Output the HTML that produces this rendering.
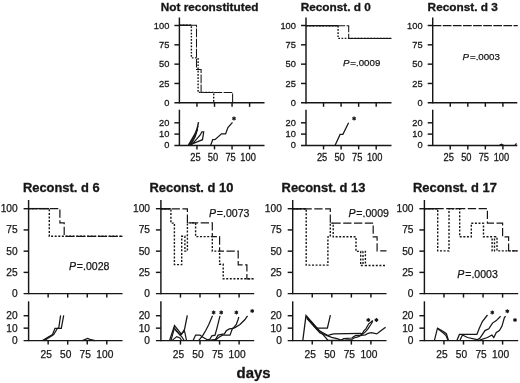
<!DOCTYPE html>
<html><head><meta charset="utf-8"><style>
html,body{margin:0;padding:0;background:#fff;}
svg{display:block;filter:blur(0.35px);}
text{font-family:"Liberation Sans", sans-serif;fill:#161616;stroke:#161616;stroke-width:0.32px;}
text.n{stroke-width:0.25px;}
text.p{stroke-width:0.25px;}
</style></head><body>
<svg width="520" height="383" viewBox="0 0 520 383">
<rect width="520" height="383" fill="#fff"/>
<text x="209.60" y="11.15" font-size="11.8" text-anchor="middle" font-weight="bold" >Not reconstituted</text>
<line x1="179.40" y1="17.50" x2="179.40" y2="103.40" stroke="#161616" stroke-width="1.45"/>
<line x1="174.40" y1="25.50" x2="179.40" y2="25.50" stroke="#161616" stroke-width="1.45"/>
<text class="n" transform="translate(169.30,28.53) scale(1,1.06)" font-size="9.3" text-anchor="end">100</text>
<line x1="174.40" y1="44.83" x2="179.40" y2="44.83" stroke="#161616" stroke-width="1.45"/>
<text class="n" transform="translate(169.30,47.85) scale(1,1.06)" font-size="9.3" text-anchor="end">75</text>
<line x1="174.40" y1="64.15" x2="179.40" y2="64.15" stroke="#161616" stroke-width="1.45"/>
<text class="n" transform="translate(169.30,67.18) scale(1,1.06)" font-size="9.3" text-anchor="end">50</text>
<line x1="174.40" y1="83.47" x2="179.40" y2="83.47" stroke="#161616" stroke-width="1.45"/>
<text class="n" transform="translate(169.30,86.50) scale(1,1.06)" font-size="9.3" text-anchor="end">25</text>
<text class="n" transform="translate(169.30,105.83) scale(1,1.06)" font-size="9.3" text-anchor="end">0</text>
<line x1="174.40" y1="102.80" x2="264.50" y2="102.80" stroke="#161616" stroke-width="1.45"/>
<line x1="196.95" y1="102.80" x2="196.95" y2="106.80" stroke="#161616" stroke-width="1.45"/>
<line x1="214.50" y1="102.80" x2="214.50" y2="106.80" stroke="#161616" stroke-width="1.45"/>
<line x1="232.05" y1="102.80" x2="232.05" y2="106.80" stroke="#161616" stroke-width="1.45"/>
<line x1="249.60" y1="102.80" x2="249.60" y2="106.80" stroke="#161616" stroke-width="1.45"/>
<line x1="179.40" y1="109.70" x2="179.40" y2="146.00" stroke="#161616" stroke-width="1.45"/>
<line x1="174.40" y1="122.80" x2="179.40" y2="122.80" stroke="#161616" stroke-width="1.45"/>
<text class="n" transform="translate(169.30,125.83) scale(1,1.06)" font-size="9.3" text-anchor="end">20</text>
<line x1="174.40" y1="134.10" x2="179.40" y2="134.10" stroke="#161616" stroke-width="1.45"/>
<text class="n" transform="translate(169.30,137.13) scale(1,1.06)" font-size="9.3" text-anchor="end">10</text>
<text class="n" transform="translate(169.30,148.43) scale(1,1.06)" font-size="9.3" text-anchor="end">0</text>
<line x1="174.40" y1="145.40" x2="264.50" y2="145.40" stroke="#161616" stroke-width="1.45"/>
<line x1="196.95" y1="145.40" x2="196.95" y2="149.40" stroke="#161616" stroke-width="1.45"/>
<text class="n" transform="translate(195.45,161.43) scale(1,1.12)" font-size="9.3" text-anchor="middle">25</text>
<line x1="214.50" y1="145.40" x2="214.50" y2="149.40" stroke="#161616" stroke-width="1.45"/>
<text class="n" transform="translate(213.00,161.43) scale(1,1.12)" font-size="9.3" text-anchor="middle">50</text>
<line x1="232.05" y1="145.40" x2="232.05" y2="149.40" stroke="#161616" stroke-width="1.45"/>
<text class="n" transform="translate(230.55,161.43) scale(1,1.12)" font-size="9.3" text-anchor="middle">75</text>
<line x1="249.60" y1="145.40" x2="249.60" y2="149.40" stroke="#161616" stroke-width="1.45"/>
<text class="n" transform="translate(248.10,161.43) scale(1,1.12)" font-size="9.3" text-anchor="middle">100</text>
<text x="335.80" y="11.15" font-size="11.8" text-anchor="middle" font-weight="bold" >Reconst. d 0</text>
<line x1="306.00" y1="17.50" x2="306.00" y2="103.40" stroke="#161616" stroke-width="1.45"/>
<line x1="301.00" y1="25.50" x2="306.00" y2="25.50" stroke="#161616" stroke-width="1.45"/>
<text class="n" transform="translate(295.90,28.53) scale(1,1.06)" font-size="9.3" text-anchor="end">100</text>
<line x1="301.00" y1="44.83" x2="306.00" y2="44.83" stroke="#161616" stroke-width="1.45"/>
<text class="n" transform="translate(295.90,47.85) scale(1,1.06)" font-size="9.3" text-anchor="end">75</text>
<line x1="301.00" y1="64.15" x2="306.00" y2="64.15" stroke="#161616" stroke-width="1.45"/>
<text class="n" transform="translate(295.90,67.18) scale(1,1.06)" font-size="9.3" text-anchor="end">50</text>
<line x1="301.00" y1="83.47" x2="306.00" y2="83.47" stroke="#161616" stroke-width="1.45"/>
<text class="n" transform="translate(295.90,86.50) scale(1,1.06)" font-size="9.3" text-anchor="end">25</text>
<text class="n" transform="translate(295.90,105.83) scale(1,1.06)" font-size="9.3" text-anchor="end">0</text>
<line x1="301.00" y1="102.80" x2="391.50" y2="102.80" stroke="#161616" stroke-width="1.45"/>
<line x1="323.55" y1="102.80" x2="323.55" y2="106.80" stroke="#161616" stroke-width="1.45"/>
<line x1="341.10" y1="102.80" x2="341.10" y2="106.80" stroke="#161616" stroke-width="1.45"/>
<line x1="358.65" y1="102.80" x2="358.65" y2="106.80" stroke="#161616" stroke-width="1.45"/>
<line x1="376.20" y1="102.80" x2="376.20" y2="106.80" stroke="#161616" stroke-width="1.45"/>
<line x1="306.00" y1="109.70" x2="306.00" y2="146.00" stroke="#161616" stroke-width="1.45"/>
<line x1="301.00" y1="122.80" x2="306.00" y2="122.80" stroke="#161616" stroke-width="1.45"/>
<text class="n" transform="translate(295.90,125.83) scale(1,1.06)" font-size="9.3" text-anchor="end">20</text>
<line x1="301.00" y1="134.10" x2="306.00" y2="134.10" stroke="#161616" stroke-width="1.45"/>
<text class="n" transform="translate(295.90,137.13) scale(1,1.06)" font-size="9.3" text-anchor="end">10</text>
<text class="n" transform="translate(295.90,148.43) scale(1,1.06)" font-size="9.3" text-anchor="end">0</text>
<line x1="301.00" y1="145.40" x2="391.50" y2="145.40" stroke="#161616" stroke-width="1.45"/>
<line x1="323.55" y1="145.40" x2="323.55" y2="149.40" stroke="#161616" stroke-width="1.45"/>
<text class="n" transform="translate(322.05,161.43) scale(1,1.12)" font-size="9.3" text-anchor="middle">25</text>
<line x1="341.10" y1="145.40" x2="341.10" y2="149.40" stroke="#161616" stroke-width="1.45"/>
<text class="n" transform="translate(339.60,161.43) scale(1,1.12)" font-size="9.3" text-anchor="middle">50</text>
<line x1="358.65" y1="145.40" x2="358.65" y2="149.40" stroke="#161616" stroke-width="1.45"/>
<text class="n" transform="translate(357.15,161.43) scale(1,1.12)" font-size="9.3" text-anchor="middle">75</text>
<line x1="376.20" y1="145.40" x2="376.20" y2="149.40" stroke="#161616" stroke-width="1.45"/>
<text class="n" transform="translate(374.70,161.43) scale(1,1.12)" font-size="9.3" text-anchor="middle">100</text>
<text class="p" x="343.00" y="66.39" font-size="9.7"><tspan font-style="italic">P</tspan><tspan dx="0.9">=</tspan>.0009</text>
<text x="462.70" y="11.15" font-size="11.8" text-anchor="middle" font-weight="bold" >Reconst. d 3</text>
<line x1="432.70" y1="17.50" x2="432.70" y2="103.40" stroke="#161616" stroke-width="1.45"/>
<line x1="427.70" y1="25.50" x2="432.70" y2="25.50" stroke="#161616" stroke-width="1.45"/>
<text class="n" transform="translate(422.60,28.53) scale(1,1.06)" font-size="9.3" text-anchor="end">100</text>
<line x1="427.70" y1="44.83" x2="432.70" y2="44.83" stroke="#161616" stroke-width="1.45"/>
<text class="n" transform="translate(422.60,47.85) scale(1,1.06)" font-size="9.3" text-anchor="end">75</text>
<line x1="427.70" y1="64.15" x2="432.70" y2="64.15" stroke="#161616" stroke-width="1.45"/>
<text class="n" transform="translate(422.60,67.18) scale(1,1.06)" font-size="9.3" text-anchor="end">50</text>
<line x1="427.70" y1="83.47" x2="432.70" y2="83.47" stroke="#161616" stroke-width="1.45"/>
<text class="n" transform="translate(422.60,86.50) scale(1,1.06)" font-size="9.3" text-anchor="end">25</text>
<text class="n" transform="translate(422.60,105.83) scale(1,1.06)" font-size="9.3" text-anchor="end">0</text>
<line x1="427.70" y1="102.80" x2="517.30" y2="102.80" stroke="#161616" stroke-width="1.45"/>
<line x1="450.25" y1="102.80" x2="450.25" y2="106.80" stroke="#161616" stroke-width="1.45"/>
<line x1="467.80" y1="102.80" x2="467.80" y2="106.80" stroke="#161616" stroke-width="1.45"/>
<line x1="485.35" y1="102.80" x2="485.35" y2="106.80" stroke="#161616" stroke-width="1.45"/>
<line x1="502.90" y1="102.80" x2="502.90" y2="106.80" stroke="#161616" stroke-width="1.45"/>
<line x1="432.70" y1="109.70" x2="432.70" y2="146.00" stroke="#161616" stroke-width="1.45"/>
<line x1="427.70" y1="122.80" x2="432.70" y2="122.80" stroke="#161616" stroke-width="1.45"/>
<text class="n" transform="translate(422.60,125.83) scale(1,1.06)" font-size="9.3" text-anchor="end">20</text>
<line x1="427.70" y1="134.10" x2="432.70" y2="134.10" stroke="#161616" stroke-width="1.45"/>
<text class="n" transform="translate(422.60,137.13) scale(1,1.06)" font-size="9.3" text-anchor="end">10</text>
<text class="n" transform="translate(422.60,148.43) scale(1,1.06)" font-size="9.3" text-anchor="end">0</text>
<line x1="427.70" y1="145.40" x2="517.30" y2="145.40" stroke="#161616" stroke-width="1.45"/>
<line x1="450.25" y1="145.40" x2="450.25" y2="149.40" stroke="#161616" stroke-width="1.45"/>
<text class="n" transform="translate(448.75,161.43) scale(1,1.12)" font-size="9.3" text-anchor="middle">25</text>
<line x1="467.80" y1="145.40" x2="467.80" y2="149.40" stroke="#161616" stroke-width="1.45"/>
<text class="n" transform="translate(466.30,161.43) scale(1,1.12)" font-size="9.3" text-anchor="middle">50</text>
<line x1="485.35" y1="145.40" x2="485.35" y2="149.40" stroke="#161616" stroke-width="1.45"/>
<text class="n" transform="translate(483.85,161.43) scale(1,1.12)" font-size="9.3" text-anchor="middle">75</text>
<line x1="502.90" y1="145.40" x2="502.90" y2="149.40" stroke="#161616" stroke-width="1.45"/>
<text class="n" transform="translate(501.40,161.43) scale(1,1.12)" font-size="9.3" text-anchor="middle">100</text>
<text class="p" x="462.60" y="59.69" font-size="9.7"><tspan font-style="italic">P</tspan><tspan dx="0.9">=</tspan>.0003</text>
<text x="61.30" y="192.10" font-size="12.9" text-anchor="middle" font-weight="bold" >Reconst. d 6</text>
<line x1="28.60" y1="200.00" x2="28.60" y2="294.20" stroke="#161616" stroke-width="1.45"/>
<line x1="23.60" y1="208.70" x2="28.60" y2="208.70" stroke="#161616" stroke-width="1.45"/>
<text class="n" transform="translate(17.70,212.15) scale(1,1.0)" font-size="10.2" text-anchor="end">100</text>
<line x1="23.60" y1="229.93" x2="28.60" y2="229.93" stroke="#161616" stroke-width="1.45"/>
<text class="n" transform="translate(17.70,233.38) scale(1,1.0)" font-size="10.2" text-anchor="end">75</text>
<line x1="23.60" y1="251.15" x2="28.60" y2="251.15" stroke="#161616" stroke-width="1.45"/>
<text class="n" transform="translate(17.70,254.60) scale(1,1.0)" font-size="10.2" text-anchor="end">50</text>
<line x1="23.60" y1="272.38" x2="28.60" y2="272.38" stroke="#161616" stroke-width="1.45"/>
<text class="n" transform="translate(17.70,275.83) scale(1,1.0)" font-size="10.2" text-anchor="end">25</text>
<text class="n" transform="translate(17.70,297.05) scale(1,1.0)" font-size="10.2" text-anchor="end">0</text>
<line x1="23.60" y1="293.60" x2="122.50" y2="293.60" stroke="#161616" stroke-width="1.45"/>
<line x1="48.15" y1="293.60" x2="48.15" y2="297.60" stroke="#161616" stroke-width="1.45"/>
<line x1="67.70" y1="293.60" x2="67.70" y2="297.60" stroke="#161616" stroke-width="1.45"/>
<line x1="87.25" y1="293.60" x2="87.25" y2="297.60" stroke="#161616" stroke-width="1.45"/>
<line x1="106.80" y1="293.60" x2="106.80" y2="297.60" stroke="#161616" stroke-width="1.45"/>
<line x1="28.60" y1="301.30" x2="28.60" y2="341.20" stroke="#161616" stroke-width="1.45"/>
<line x1="23.60" y1="315.70" x2="28.60" y2="315.70" stroke="#161616" stroke-width="1.45"/>
<text class="n" transform="translate(17.70,319.15) scale(1,1.0)" font-size="10.2" text-anchor="end">20</text>
<line x1="23.60" y1="328.15" x2="28.60" y2="328.15" stroke="#161616" stroke-width="1.45"/>
<text class="n" transform="translate(17.70,331.60) scale(1,1.0)" font-size="10.2" text-anchor="end">10</text>
<text class="n" transform="translate(17.70,344.05) scale(1,1.0)" font-size="10.2" text-anchor="end">0</text>
<line x1="23.60" y1="340.60" x2="122.50" y2="340.60" stroke="#161616" stroke-width="1.45"/>
<line x1="48.15" y1="340.60" x2="48.15" y2="344.60" stroke="#161616" stroke-width="1.45"/>
<text class="n" transform="translate(46.15,357.75) scale(1,1.0)" font-size="10.2" text-anchor="middle">25</text>
<line x1="67.70" y1="340.60" x2="67.70" y2="344.60" stroke="#161616" stroke-width="1.45"/>
<text class="n" transform="translate(65.70,357.75) scale(1,1.0)" font-size="10.2" text-anchor="middle">50</text>
<line x1="87.25" y1="340.60" x2="87.25" y2="344.60" stroke="#161616" stroke-width="1.45"/>
<text class="n" transform="translate(85.25,357.75) scale(1,1.0)" font-size="10.2" text-anchor="middle">75</text>
<line x1="106.80" y1="340.60" x2="106.80" y2="344.60" stroke="#161616" stroke-width="1.45"/>
<text class="n" transform="translate(104.80,357.75) scale(1,1.0)" font-size="10.2" text-anchor="middle">100</text>
<text class="p" x="68.90" y="270.10" font-size="10.55"><tspan font-style="italic">P</tspan><tspan dx="0.9">=</tspan>.0028</text>
<text x="191.40" y="192.10" font-size="12.9" text-anchor="middle" font-weight="bold" >Reconst. d 10</text>
<line x1="160.90" y1="200.00" x2="160.90" y2="294.20" stroke="#161616" stroke-width="1.45"/>
<line x1="155.90" y1="208.70" x2="160.90" y2="208.70" stroke="#161616" stroke-width="1.45"/>
<text class="n" transform="translate(150.00,212.15) scale(1,1.0)" font-size="10.2" text-anchor="end">100</text>
<line x1="155.90" y1="229.93" x2="160.90" y2="229.93" stroke="#161616" stroke-width="1.45"/>
<text class="n" transform="translate(150.00,233.38) scale(1,1.0)" font-size="10.2" text-anchor="end">75</text>
<line x1="155.90" y1="251.15" x2="160.90" y2="251.15" stroke="#161616" stroke-width="1.45"/>
<text class="n" transform="translate(150.00,254.60) scale(1,1.0)" font-size="10.2" text-anchor="end">50</text>
<line x1="155.90" y1="272.38" x2="160.90" y2="272.38" stroke="#161616" stroke-width="1.45"/>
<text class="n" transform="translate(150.00,275.83) scale(1,1.0)" font-size="10.2" text-anchor="end">25</text>
<text class="n" transform="translate(150.00,297.05) scale(1,1.0)" font-size="10.2" text-anchor="end">0</text>
<line x1="155.90" y1="293.60" x2="254.20" y2="293.60" stroke="#161616" stroke-width="1.45"/>
<line x1="180.45" y1="293.60" x2="180.45" y2="297.60" stroke="#161616" stroke-width="1.45"/>
<line x1="200.00" y1="293.60" x2="200.00" y2="297.60" stroke="#161616" stroke-width="1.45"/>
<line x1="219.55" y1="293.60" x2="219.55" y2="297.60" stroke="#161616" stroke-width="1.45"/>
<line x1="239.10" y1="293.60" x2="239.10" y2="297.60" stroke="#161616" stroke-width="1.45"/>
<line x1="160.90" y1="301.30" x2="160.90" y2="341.20" stroke="#161616" stroke-width="1.45"/>
<line x1="155.90" y1="315.70" x2="160.90" y2="315.70" stroke="#161616" stroke-width="1.45"/>
<text class="n" transform="translate(150.00,319.15) scale(1,1.0)" font-size="10.2" text-anchor="end">20</text>
<line x1="155.90" y1="328.15" x2="160.90" y2="328.15" stroke="#161616" stroke-width="1.45"/>
<text class="n" transform="translate(150.00,331.60) scale(1,1.0)" font-size="10.2" text-anchor="end">10</text>
<text class="n" transform="translate(150.00,344.05) scale(1,1.0)" font-size="10.2" text-anchor="end">0</text>
<line x1="155.90" y1="340.60" x2="254.20" y2="340.60" stroke="#161616" stroke-width="1.45"/>
<line x1="180.45" y1="340.60" x2="180.45" y2="344.60" stroke="#161616" stroke-width="1.45"/>
<text class="n" transform="translate(178.45,357.75) scale(1,1.0)" font-size="10.2" text-anchor="middle">25</text>
<line x1="200.00" y1="340.60" x2="200.00" y2="344.60" stroke="#161616" stroke-width="1.45"/>
<text class="n" transform="translate(198.00,357.75) scale(1,1.0)" font-size="10.2" text-anchor="middle">50</text>
<line x1="219.55" y1="340.60" x2="219.55" y2="344.60" stroke="#161616" stroke-width="1.45"/>
<text class="n" transform="translate(217.55,357.75) scale(1,1.0)" font-size="10.2" text-anchor="middle">75</text>
<line x1="239.10" y1="340.60" x2="239.10" y2="344.60" stroke="#161616" stroke-width="1.45"/>
<text class="n" transform="translate(237.10,357.75) scale(1,1.0)" font-size="10.2" text-anchor="middle">100</text>
<text class="p" x="208.90" y="217.20" font-size="10.55"><tspan font-style="italic">P</tspan><tspan dx="0.9">=</tspan>.0073</text>
<text x="323.50" y="192.10" font-size="12.9" text-anchor="middle" font-weight="bold" >Reconst. d 13</text>
<line x1="292.70" y1="200.00" x2="292.70" y2="294.20" stroke="#161616" stroke-width="1.45"/>
<line x1="287.70" y1="208.70" x2="292.70" y2="208.70" stroke="#161616" stroke-width="1.45"/>
<text class="n" transform="translate(281.80,212.15) scale(1,1.0)" font-size="10.2" text-anchor="end">100</text>
<line x1="287.70" y1="229.93" x2="292.70" y2="229.93" stroke="#161616" stroke-width="1.45"/>
<text class="n" transform="translate(281.80,233.38) scale(1,1.0)" font-size="10.2" text-anchor="end">75</text>
<line x1="287.70" y1="251.15" x2="292.70" y2="251.15" stroke="#161616" stroke-width="1.45"/>
<text class="n" transform="translate(281.80,254.60) scale(1,1.0)" font-size="10.2" text-anchor="end">50</text>
<line x1="287.70" y1="272.38" x2="292.70" y2="272.38" stroke="#161616" stroke-width="1.45"/>
<text class="n" transform="translate(281.80,275.83) scale(1,1.0)" font-size="10.2" text-anchor="end">25</text>
<text class="n" transform="translate(281.80,297.05) scale(1,1.0)" font-size="10.2" text-anchor="end">0</text>
<line x1="287.70" y1="293.60" x2="386.50" y2="293.60" stroke="#161616" stroke-width="1.45"/>
<line x1="312.25" y1="293.60" x2="312.25" y2="297.60" stroke="#161616" stroke-width="1.45"/>
<line x1="331.80" y1="293.60" x2="331.80" y2="297.60" stroke="#161616" stroke-width="1.45"/>
<line x1="351.35" y1="293.60" x2="351.35" y2="297.60" stroke="#161616" stroke-width="1.45"/>
<line x1="370.90" y1="293.60" x2="370.90" y2="297.60" stroke="#161616" stroke-width="1.45"/>
<line x1="292.70" y1="301.30" x2="292.70" y2="341.20" stroke="#161616" stroke-width="1.45"/>
<line x1="287.70" y1="315.70" x2="292.70" y2="315.70" stroke="#161616" stroke-width="1.45"/>
<text class="n" transform="translate(281.80,319.15) scale(1,1.0)" font-size="10.2" text-anchor="end">20</text>
<line x1="287.70" y1="328.15" x2="292.70" y2="328.15" stroke="#161616" stroke-width="1.45"/>
<text class="n" transform="translate(281.80,331.60) scale(1,1.0)" font-size="10.2" text-anchor="end">10</text>
<text class="n" transform="translate(281.80,344.05) scale(1,1.0)" font-size="10.2" text-anchor="end">0</text>
<line x1="287.70" y1="340.60" x2="386.50" y2="340.60" stroke="#161616" stroke-width="1.45"/>
<line x1="312.25" y1="340.60" x2="312.25" y2="344.60" stroke="#161616" stroke-width="1.45"/>
<text class="n" transform="translate(310.25,357.75) scale(1,1.0)" font-size="10.2" text-anchor="middle">25</text>
<line x1="331.80" y1="340.60" x2="331.80" y2="344.60" stroke="#161616" stroke-width="1.45"/>
<text class="n" transform="translate(329.80,357.75) scale(1,1.0)" font-size="10.2" text-anchor="middle">50</text>
<line x1="351.35" y1="340.60" x2="351.35" y2="344.60" stroke="#161616" stroke-width="1.45"/>
<text class="n" transform="translate(349.35,357.75) scale(1,1.0)" font-size="10.2" text-anchor="middle">75</text>
<line x1="370.90" y1="340.60" x2="370.90" y2="344.60" stroke="#161616" stroke-width="1.45"/>
<text class="n" transform="translate(368.90,357.75) scale(1,1.0)" font-size="10.2" text-anchor="middle">100</text>
<text class="p" x="348.40" y="216.50" font-size="10.55"><tspan font-style="italic">P</tspan><tspan dx="0.9">=</tspan>.0009</text>
<text x="454.90" y="192.10" font-size="12.9" text-anchor="middle" font-weight="bold" >Reconst. d 17</text>
<line x1="424.40" y1="200.00" x2="424.40" y2="294.20" stroke="#161616" stroke-width="1.45"/>
<line x1="419.40" y1="208.70" x2="424.40" y2="208.70" stroke="#161616" stroke-width="1.45"/>
<text class="n" transform="translate(413.50,212.15) scale(1,1.0)" font-size="10.2" text-anchor="end">100</text>
<line x1="419.40" y1="229.93" x2="424.40" y2="229.93" stroke="#161616" stroke-width="1.45"/>
<text class="n" transform="translate(413.50,233.38) scale(1,1.0)" font-size="10.2" text-anchor="end">75</text>
<line x1="419.40" y1="251.15" x2="424.40" y2="251.15" stroke="#161616" stroke-width="1.45"/>
<text class="n" transform="translate(413.50,254.60) scale(1,1.0)" font-size="10.2" text-anchor="end">50</text>
<line x1="419.40" y1="272.38" x2="424.40" y2="272.38" stroke="#161616" stroke-width="1.45"/>
<text class="n" transform="translate(413.50,275.83) scale(1,1.0)" font-size="10.2" text-anchor="end">25</text>
<text class="n" transform="translate(413.50,297.05) scale(1,1.0)" font-size="10.2" text-anchor="end">0</text>
<line x1="419.40" y1="293.60" x2="518.20" y2="293.60" stroke="#161616" stroke-width="1.45"/>
<line x1="443.95" y1="293.60" x2="443.95" y2="297.60" stroke="#161616" stroke-width="1.45"/>
<line x1="463.50" y1="293.60" x2="463.50" y2="297.60" stroke="#161616" stroke-width="1.45"/>
<line x1="483.05" y1="293.60" x2="483.05" y2="297.60" stroke="#161616" stroke-width="1.45"/>
<line x1="502.60" y1="293.60" x2="502.60" y2="297.60" stroke="#161616" stroke-width="1.45"/>
<line x1="424.40" y1="301.30" x2="424.40" y2="341.20" stroke="#161616" stroke-width="1.45"/>
<line x1="419.40" y1="315.70" x2="424.40" y2="315.70" stroke="#161616" stroke-width="1.45"/>
<text class="n" transform="translate(413.50,319.15) scale(1,1.0)" font-size="10.2" text-anchor="end">20</text>
<line x1="419.40" y1="328.15" x2="424.40" y2="328.15" stroke="#161616" stroke-width="1.45"/>
<text class="n" transform="translate(413.50,331.60) scale(1,1.0)" font-size="10.2" text-anchor="end">10</text>
<text class="n" transform="translate(413.50,344.05) scale(1,1.0)" font-size="10.2" text-anchor="end">0</text>
<line x1="419.40" y1="340.60" x2="518.20" y2="340.60" stroke="#161616" stroke-width="1.45"/>
<line x1="443.95" y1="340.60" x2="443.95" y2="344.60" stroke="#161616" stroke-width="1.45"/>
<text class="n" transform="translate(441.95,357.75) scale(1,1.0)" font-size="10.2" text-anchor="middle">25</text>
<line x1="463.50" y1="340.60" x2="463.50" y2="344.60" stroke="#161616" stroke-width="1.45"/>
<text class="n" transform="translate(461.50,357.75) scale(1,1.0)" font-size="10.2" text-anchor="middle">50</text>
<line x1="483.05" y1="340.60" x2="483.05" y2="344.60" stroke="#161616" stroke-width="1.45"/>
<text class="n" transform="translate(481.05,357.75) scale(1,1.0)" font-size="10.2" text-anchor="middle">75</text>
<line x1="502.60" y1="340.60" x2="502.60" y2="344.60" stroke="#161616" stroke-width="1.45"/>
<text class="n" transform="translate(500.60,357.75) scale(1,1.0)" font-size="10.2" text-anchor="middle">100</text>
<text class="p" x="457.30" y="278.10" font-size="10.55"><tspan font-style="italic">P</tspan><tspan dx="0.9">=</tspan>.0003</text>
<text x="253.60" y="378.40" font-size="14.9" text-anchor="middle" font-weight="bold" >days</text>
<polyline points="179.60,25.30 191.40,25.30 191.40,57.90 198.10,57.90 198.10,92.40 213.70,92.40 213.70,102.80" fill="none" stroke="#161616" stroke-width="1.4" stroke-dasharray="1.7 1.5" stroke-linejoin="miter"/>
<polyline points="179.60,25.30 196.50,25.30 196.50,69.40 201.10,69.40 201.10,92.40 232.60,92.40 232.60,102.80" fill="none" stroke="#161616" stroke-width="1.05" stroke-dasharray="8.7 1.4" stroke-linejoin="miter"/>
<polyline points="188.30,145.40 195.00,133.90 197.30,128.20 198.50,122.20" fill="none" stroke="#161616" stroke-width="1.4"  stroke-linejoin="miter"/>
<polyline points="189.50,145.40 194.00,137.50 196.70,130.50 197.90,125.80" fill="none" stroke="#161616" stroke-width="1.3"  stroke-linejoin="miter"/>
<polyline points="190.60,145.40 195.30,136.50 197.60,129.00" fill="none" stroke="#161616" stroke-width="1.2"  stroke-linejoin="miter"/>
<polyline points="191.00,145.40 196.20,139.70 200.20,135.00 201.90,131.80 203.70,131.80 202.50,139.70 192.70,143.70 190.50,145.40" fill="none" stroke="#161616" stroke-width="1.25"  stroke-linejoin="miter"/>
<polyline points="210.60,145.40 212.70,139.70 215.20,139.50 221.50,133.90 225.60,133.90 227.90,127.60 232.50,122.40" fill="none" stroke="#161616" stroke-width="1.25"  stroke-linejoin="miter"/>
<line x1="234.00" y1="116.50" x2="234.00" y2="120.50" stroke="#161616" stroke-width="1.1"/>
<line x1="232.27" y1="117.50" x2="235.73" y2="119.50" stroke="#161616" stroke-width="1.1"/>
<line x1="235.73" y1="117.50" x2="232.27" y2="119.50" stroke="#161616" stroke-width="1.1"/>
<circle cx="234.00" cy="118.50" r="1.05" fill="#161616"/>
<polyline points="306.20,25.70 338.10,25.70 338.10,38.40 391.20,38.40" fill="none" stroke="#161616" stroke-width="1.4" stroke-dasharray="1.7 1.5" stroke-linejoin="miter"/>
<polyline points="306.20,25.70 348.70,25.70 348.70,38.40 391.20,38.40" fill="none" stroke="#161616" stroke-width="1.05" stroke-dasharray="8.7 1.4" stroke-linejoin="miter"/>
<polyline points="335.00,145.40 340.10,134.40 342.90,134.40 348.60,122.80" fill="none" stroke="#161616" stroke-width="1.25"  stroke-linejoin="miter"/>
<line x1="354.10" y1="116.60" x2="354.10" y2="120.60" stroke="#161616" stroke-width="1.1"/>
<line x1="352.37" y1="117.60" x2="355.83" y2="119.60" stroke="#161616" stroke-width="1.1"/>
<line x1="355.83" y1="117.60" x2="352.37" y2="119.60" stroke="#161616" stroke-width="1.1"/>
<circle cx="354.10" cy="118.60" r="1.05" fill="#161616"/>
<polyline points="432.70,25.60 517.80,25.60" fill="none" stroke="#161616" stroke-width="1.05" stroke-dasharray="8.7 1.4" stroke-linejoin="miter"/>
<polyline points="499.50,145.40 501.50,144.30 503.50,145.40" fill="none" stroke="#161616" stroke-width="1.25"  stroke-linejoin="miter"/>
<polyline points="515.00,145.40 516.50,143.30" fill="none" stroke="#161616" stroke-width="1.25"  stroke-linejoin="miter"/>
<polyline points="28.40,208.60 49.30,208.60 49.30,236.30 122.50,236.30" fill="none" stroke="#161616" stroke-width="1.4" stroke-dasharray="2.0 1.6" stroke-linejoin="miter"/>
<polyline points="28.40,208.60 59.90,208.60 59.90,222.90 64.20,222.90 64.20,236.30 122.50,236.30" fill="none" stroke="#161616" stroke-width="1.2" stroke-dasharray="8.3 2.5" stroke-linejoin="miter"/>
<polyline points="42.50,340.60 52.50,334.60 55.00,328.30 58.70,328.30 60.60,315.30" fill="none" stroke="#161616" stroke-width="1.25"  stroke-linejoin="miter"/>
<polyline points="44.00,340.60 53.70,334.60 57.50,328.30 61.30,328.30 63.70,315.30" fill="none" stroke="#161616" stroke-width="1.25"  stroke-linejoin="miter"/>
<polyline points="82.50,340.60 87.50,338.50 90.00,339.40 95.00,340.60" fill="none" stroke="#161616" stroke-width="1.25"  stroke-linejoin="miter"/>
<polyline points="160.80,208.80 170.90,208.80 170.90,223.10 174.40,223.10 174.40,264.60 181.70,264.60 181.70,236.30 184.90,236.30 184.90,251.10 187.40,251.10 187.40,222.90 195.60,222.90 195.60,236.60 212.30,236.60 212.30,251.10 219.60,251.10 219.60,264.20 223.20,264.20 223.20,278.80 253.50,278.80" fill="none" stroke="#161616" stroke-width="1.4" stroke-dasharray="2.0 1.6" stroke-linejoin="miter"/>
<polyline points="160.80,208.80 187.40,208.80 187.40,222.90 212.30,222.90 212.30,236.60 219.60,236.60 219.60,251.10 238.20,251.10 238.20,264.90 246.90,264.90 246.90,278.80 253.50,278.80" fill="none" stroke="#161616" stroke-width="1.2" stroke-dasharray="8.3 2.5" stroke-linejoin="miter"/>
<polyline points="169.60,340.40 174.50,325.50 181.60,334.30 184.60,329.10 187.30,315.40" fill="none" stroke="#161616" stroke-width="1.3"  stroke-linejoin="miter"/>
<polyline points="171.00,340.40 174.40,328.00 180.00,335.00 184.50,331.00 186.50,340.40" fill="none" stroke="#161616" stroke-width="1.2"  stroke-linejoin="miter"/>
<polyline points="172.20,340.40 176.70,336.60 180.00,338.00 181.50,340.40" fill="none" stroke="#161616" stroke-width="1.2"  stroke-linejoin="miter"/>
<polyline points="175.00,329.50 182.00,337.00 184.00,340.40" fill="none" stroke="#161616" stroke-width="1.2"  stroke-linejoin="miter"/>
<polyline points="193.10,340.40 195.60,335.10 200.00,335.10 202.50,337.00 206.90,339.50 208.80,340.40" fill="none" stroke="#161616" stroke-width="1.25"  stroke-linejoin="miter"/>
<polyline points="198.80,340.40 202.50,335.80 205.60,330.80 208.80,324.50 212.50,315.80" fill="none" stroke="#161616" stroke-width="1.25"  stroke-linejoin="miter"/>
<polyline points="206.30,340.40 210.00,339.00 211.90,335.80 215.00,335.10 216.90,328.30 220.00,315.80" fill="none" stroke="#161616" stroke-width="1.25"  stroke-linejoin="miter"/>
<polyline points="215.00,340.40 218.10,335.10 221.30,334.30 224.40,333.90 226.30,330.80 229.40,328.90 233.10,328.30 236.30,324.50 238.10,319.50 238.80,317.00" fill="none" stroke="#161616" stroke-width="1.25"  stroke-linejoin="miter"/>
<polyline points="208.80,340.40 216.30,339.40 219.40,337.00 222.50,335.10 230.00,335.10 232.50,328.30 235.00,327.60 240.00,324.50 245.00,319.50 247.50,315.80" fill="none" stroke="#161616" stroke-width="1.25"  stroke-linejoin="miter"/>
<line x1="213.60" y1="310.40" x2="213.60" y2="314.40" stroke="#161616" stroke-width="1.1"/>
<line x1="211.87" y1="311.40" x2="215.33" y2="313.40" stroke="#161616" stroke-width="1.1"/>
<line x1="215.33" y1="311.40" x2="211.87" y2="313.40" stroke="#161616" stroke-width="1.1"/>
<circle cx="213.60" cy="312.40" r="1.05" fill="#161616"/>
<line x1="221.20" y1="310.40" x2="221.20" y2="314.40" stroke="#161616" stroke-width="1.1"/>
<line x1="219.47" y1="311.40" x2="222.93" y2="313.40" stroke="#161616" stroke-width="1.1"/>
<line x1="222.93" y1="311.40" x2="219.47" y2="313.40" stroke="#161616" stroke-width="1.1"/>
<circle cx="221.20" cy="312.40" r="1.05" fill="#161616"/>
<line x1="236.40" y1="310.40" x2="236.40" y2="314.40" stroke="#161616" stroke-width="1.1"/>
<line x1="234.67" y1="311.40" x2="238.13" y2="313.40" stroke="#161616" stroke-width="1.1"/>
<line x1="238.13" y1="311.40" x2="234.67" y2="313.40" stroke="#161616" stroke-width="1.1"/>
<circle cx="236.40" cy="312.40" r="1.05" fill="#161616"/>
<line x1="252.20" y1="309.00" x2="252.20" y2="313.00" stroke="#161616" stroke-width="1.1"/>
<line x1="250.47" y1="310.00" x2="253.93" y2="312.00" stroke="#161616" stroke-width="1.1"/>
<line x1="253.93" y1="310.00" x2="250.47" y2="312.00" stroke="#161616" stroke-width="1.1"/>
<circle cx="252.20" cy="311.00" r="1.05" fill="#161616"/>
<polyline points="292.70,208.80 306.20,208.80 306.20,265.10 327.90,265.10 327.90,236.90 330.30,236.90 330.30,223.10 333.20,223.10 333.20,236.70 356.00,236.70 356.00,251.40 360.70,251.40 360.70,265.50 363.00,265.50 363.00,251.40 365.40,251.40 365.40,265.50 386.50,265.50" fill="none" stroke="#161616" stroke-width="1.4" stroke-dasharray="2.0 1.6" stroke-linejoin="miter"/>
<polyline points="292.70,208.80 330.30,208.80 330.30,223.10 373.20,223.10 373.20,236.90 377.10,236.90 377.10,250.90 386.50,250.90" fill="none" stroke="#161616" stroke-width="1.2" stroke-dasharray="8.3 2.5" stroke-linejoin="miter"/>
<polyline points="302.80,340.50 306.00,315.40 326.30,338.40 328.00,340.50" fill="none" stroke="#161616" stroke-width="1.3"  stroke-linejoin="miter"/>
<polyline points="306.00,316.00 315.90,328.00 327.40,328.00 330.40,315.10" fill="none" stroke="#161616" stroke-width="1.25"  stroke-linejoin="miter"/>
<polyline points="306.50,317.50 318.00,330.00 328.00,335.50 330.40,334.60 333.70,333.90 360.70,333.30 362.00,334.00 364.00,330.60 366.00,328.60 368.70,323.80 371.40,321.80 372.80,320.50" fill="none" stroke="#161616" stroke-width="1.25"  stroke-linejoin="miter"/>
<polyline points="307.00,318.50 320.00,333.00 331.70,337.30 337.00,338.60 341.20,340.00 343.80,338.60 351.90,338.00 353.90,336.60 356.00,335.30 360.00,335.30 362.70,333.90 365.40,331.90 368.10,328.60 370.80,324.50 372.80,321.20" fill="none" stroke="#161616" stroke-width="1.25"  stroke-linejoin="miter"/>
<polyline points="328.00,340.40 345.00,340.00 351.90,339.50 353.90,338.00 358.60,336.60 361.30,335.30 365.40,334.90 368.10,333.30 371.40,332.60 376.80,333.90 380.20,331.20 385.60,327.20" fill="none" stroke="#161616" stroke-width="1.25"  stroke-linejoin="miter"/>
<line x1="368.30" y1="318.10" x2="368.30" y2="322.10" stroke="#161616" stroke-width="1.1"/>
<line x1="366.57" y1="319.10" x2="370.03" y2="321.10" stroke="#161616" stroke-width="1.1"/>
<line x1="370.03" y1="319.10" x2="366.57" y2="321.10" stroke="#161616" stroke-width="1.1"/>
<circle cx="368.30" cy="320.10" r="1.05" fill="#161616"/>
<line x1="376.40" y1="318.10" x2="376.40" y2="322.10" stroke="#161616" stroke-width="1.1"/>
<line x1="374.67" y1="319.10" x2="378.13" y2="321.10" stroke="#161616" stroke-width="1.1"/>
<line x1="378.13" y1="319.10" x2="374.67" y2="321.10" stroke="#161616" stroke-width="1.1"/>
<circle cx="376.40" cy="320.10" r="1.05" fill="#161616"/>
<polyline points="424.60,208.70 437.70,208.70 437.70,250.90 449.00,250.90 449.00,208.70 459.70,208.70 459.70,236.80 471.30,236.80 471.30,223.20 483.50,223.20 483.50,236.80 492.10,236.80 492.10,250.90 494.50,250.90 494.50,236.80 497.00,236.80 497.00,250.90 517.50,250.90" fill="none" stroke="#161616" stroke-width="1.4" stroke-dasharray="2.0 1.6" stroke-linejoin="miter"/>
<polyline points="424.60,208.70 487.40,208.70 487.40,223.20 502.60,223.20 502.60,236.80 508.60,236.80 508.60,250.90 517.50,250.90" fill="none" stroke="#161616" stroke-width="1.2" stroke-dasharray="8.3 2.5" stroke-linejoin="miter"/>
<polyline points="434.40,340.50 437.50,328.20 443.30,331.60 446.40,333.70 448.50,340.50" fill="none" stroke="#161616" stroke-width="1.2"  stroke-linejoin="miter"/>
<polyline points="437.50,328.60 443.00,332.80 446.00,335.50 448.00,340.50" fill="none" stroke="#161616" stroke-width="1.2"  stroke-linejoin="miter"/>
<polyline points="456.90,340.50 459.40,334.40 476.90,334.40 479.40,328.10 482.50,321.30 487.50,315.00" fill="none" stroke="#161616" stroke-width="1.25"  stroke-linejoin="miter"/>
<polyline points="460.00,340.00 462.50,335.00 467.50,337.50 476.00,339.40 478.00,340.50" fill="none" stroke="#161616" stroke-width="1.25"  stroke-linejoin="miter"/>
<polyline points="476.90,340.00 480.00,338.10 485.00,330.60 488.80,328.80 492.50,323.10 496.30,320.60 500.60,316.30" fill="none" stroke="#161616" stroke-width="1.25"  stroke-linejoin="miter"/>
<polyline points="478.00,340.60 487.50,337.50 491.90,335.00 493.80,337.50 496.30,332.50 499.40,330.60 501.90,326.30 504.40,317.50 505.60,316.30" fill="none" stroke="#161616" stroke-width="1.25"  stroke-linejoin="miter"/>
<line x1="492.30" y1="310.50" x2="492.30" y2="314.50" stroke="#161616" stroke-width="1.1"/>
<line x1="490.57" y1="311.50" x2="494.03" y2="313.50" stroke="#161616" stroke-width="1.1"/>
<line x1="494.03" y1="311.50" x2="490.57" y2="313.50" stroke="#161616" stroke-width="1.1"/>
<circle cx="492.30" cy="312.50" r="1.05" fill="#161616"/>
<line x1="507.30" y1="309.30" x2="507.30" y2="313.30" stroke="#161616" stroke-width="1.1"/>
<line x1="505.57" y1="310.30" x2="509.03" y2="312.30" stroke="#161616" stroke-width="1.1"/>
<line x1="509.03" y1="310.30" x2="505.57" y2="312.30" stroke="#161616" stroke-width="1.1"/>
<circle cx="507.30" cy="311.30" r="1.05" fill="#161616"/>
<line x1="515.00" y1="318.00" x2="515.00" y2="322.00" stroke="#161616" stroke-width="1.1"/>
<line x1="513.27" y1="319.00" x2="516.73" y2="321.00" stroke="#161616" stroke-width="1.1"/>
<line x1="516.73" y1="319.00" x2="513.27" y2="321.00" stroke="#161616" stroke-width="1.1"/>
<circle cx="515.00" cy="320.00" r="1.05" fill="#161616"/>
<polyline points="179.40,25.30 191.40,25.30" fill="none" stroke="#161616" stroke-width="1.3"  stroke-linejoin="miter"/>
<polyline points="306.00,25.70 338.10,25.70" fill="none" stroke="#161616" stroke-width="1.3"  stroke-linejoin="miter"/>
<polyline points="348.70,38.40 391.20,38.40" fill="none" stroke="#161616" stroke-width="1.0"  stroke-linejoin="miter"/>
<polyline points="28.60,208.60 49.30,208.60" fill="none" stroke="#161616" stroke-width="1.3"  stroke-linejoin="miter"/>
<polyline points="160.90,208.80 170.90,208.80" fill="none" stroke="#161616" stroke-width="1.3"  stroke-linejoin="miter"/>
<polyline points="292.70,208.80 306.20,208.80" fill="none" stroke="#161616" stroke-width="1.3"  stroke-linejoin="miter"/>
<polyline points="424.40,208.70 437.70,208.70" fill="none" stroke="#161616" stroke-width="1.3"  stroke-linejoin="miter"/>
</svg>
</body></html>
